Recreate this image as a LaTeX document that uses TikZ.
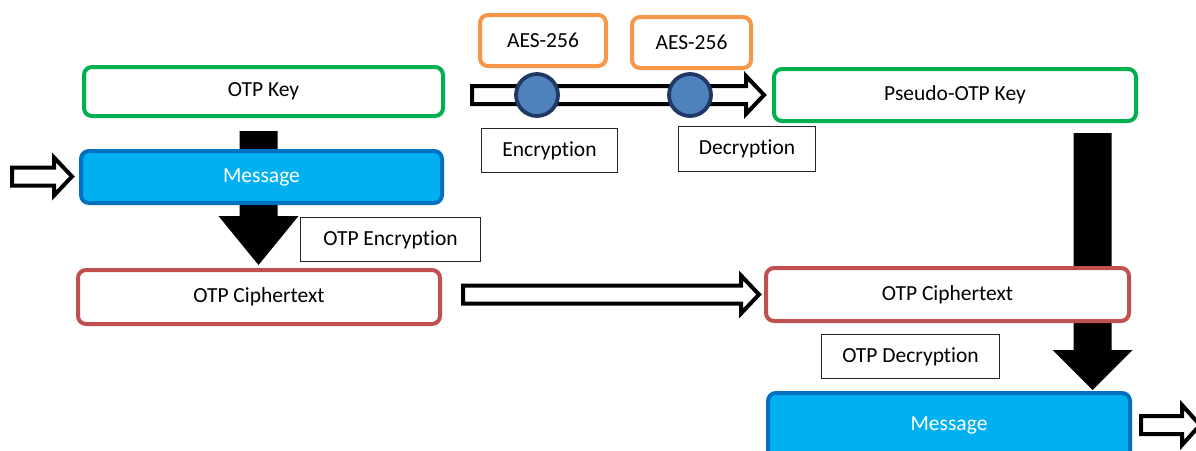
\documentclass[tikz,border=0pt]{standalone}
\usepackage{fontspec}
\setmainfont{Carlito}[Ligatures=NoCommon]
\usetikzlibrary{calc}
\definecolor{cgreen}{HTML}{00B050}
\definecolor{corange}{HTML}{F79646}
\definecolor{cred}{HTML}{C0504D}
\definecolor{cblue}{HTML}{00B0F0}
\definecolor{cblueb}{HTML}{0070C0}
\definecolor{ccirc}{HTML}{4F81BD}
\definecolor{ccircb}{HTML}{1F3864}
\tikzset{
  box/.style={draw, rounded corners=8pt, line width=4pt, inner sep=0pt, outer sep=0pt, fill=white},
  keybox/.style={box, draw=cgreen},
  aesbox/.style={box, draw=corange},
  ctbox/.style={box, draw=cred},
  msgbox/.style={box, draw=cblueb, fill=cblue, text=white},
  lblbox/.style={draw=black!85, line width=1.3pt, inner sep=0pt, fill=white},
  dot/.style={circle, draw=ccircb, fill=ccirc, line width=3.8pt, minimum size=42pt, inner sep=0pt},
  hollowarr/.style={draw=black, fill=white, line width=4pt, line join=miter},
  solidarr/.style={fill=black, draw=none},
}
\newcommand\hollowarrow[4]{% from coord #1 to coord #2, shaft half #3, head half #4
  \draw[hollowarr] let \p1=(#1), \p2=(#2) in
    (\x1,\y1+#3) -- (\x2-18pt,\y1+#3) -- (\x2-18pt,\y1+#4) -- (\x2,\y1)
    -- (\x2-18pt,\y1-#4) -- (\x2-18pt,\y1-#3) -- (\x1,\y1-#3) -- cycle;}
\newcommand\blockarrow[3]{% vertical from #1 down to #2, head length #3
  \fill[solidarr] let \p1=(#1), \p2=(#2) in
    (\x1-19pt,\y1) -- (\x1+19pt,\y1) -- (\x1+19pt,\y2+#3) -- (\x1+40pt,\y2+#3)
    -- (\x1,\y2) -- (\x1-40pt,\y2+#3) -- (\x1-19pt,\y2+#3) -- cycle;}
\begin{document}
\begin{tikzpicture}[x=1pt,y=-1pt,font=\fontsize{21.5}{25}\selectfont]
\useasboundingbox (0,0) rectangle (1196,450);
\clip (0,0) rectangle (1196,450);
% coordinates for arrow ends
\coordinate (la1) at (258.5,131);
\coordinate (la2) at (258.5,265);
\coordinate (ra1) at (1092.5,133);
\coordinate (ra2) at (1092.5,390);
% black block arrows (behind boxes)
\blockarrow{la1}{la2}{49pt}
\blockarrow{ra1}{ra2}{40pt}
% boxes
\node[keybox, minimum width=359pt, minimum height=49pt] (key) at (263.5,91.5) {OTP Key};
\node[msgbox, minimum width=361pt, minimum height=52pt] (msg1) at (261.5,177) {Message};
\node[lblbox, minimum width=180pt, minimum height=44pt] (enc1) at (390.5,239.5) {OTP Encryption};
\node[ctbox, minimum width=362pt, minimum height=54pt] (ct1) at (259,297) {OTP Ciphertext};
\node[aesbox, minimum width=126pt, minimum height=51pt] (aes1) at (543,40.5) {AES-256};
\node[aesbox, minimum width=119pt, minimum height=51pt] (aes2) at (691.5,42.5) {AES-256};
\node[lblbox, minimum width=136pt, minimum height=44pt] (enc) at (549.5,150.5) {Encryption};
\node[lblbox, minimum width=137pt, minimum height=45pt] (dec) at (747,149) {Decryption};
\node[keybox, minimum width=362pt, minimum height=52pt] (pkey) at (955,95) {Pseudo-OTP Key};
\node[ctbox, minimum width=363pt, minimum height=53pt] (ct2) at (947.5,294.5) {OTP Ciphertext};
\node[lblbox, minimum width=178pt, minimum height=44pt] (dec2) at (910.5,356.5) {OTP Decryption};
\node[msgbox, minimum width=362pt, minimum height=66pt] (msg2) at (949,426) {\raisebox{4pt}{Message}};
% hollow arrows
\coordinate (in1) at (12,176.5);
\coordinate (in1e) at (72,176.5);
\hollowarrow{in1}{in1e}{9pt}{19pt}
\coordinate (m1) at ($(key.east)+(29,3.5)$);
\coordinate (m2) at ($(pkey.west)+(-10,0)$);
\hollowarrow{m1}{m2}{9pt}{19pt}
\coordinate (b1) at ($(ct1.east)+(23,-2.5)$);
\coordinate (b2) at ($(ct2.west)+(-7,0)$);
\hollowarrow{b1}{b2}{9pt}{19pt}
\coordinate (out1) at (1141,425);
\coordinate (out2) at (1200,425);
\hollowarrow{out1}{out2}{9pt}{20pt}
% circles on the AES path
\node[dot] (c1) at (537,95) {};
\node[dot] (c2) at (690,95) {};
\end{tikzpicture}
\end{document}
